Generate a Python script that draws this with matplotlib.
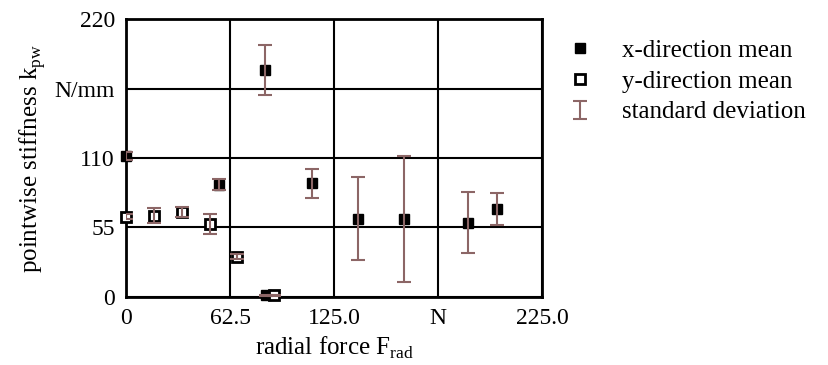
import matplotlib
matplotlib.use("Agg")
import matplotlib.pyplot as plt
from matplotlib.lines import Line2D
from matplotlib.legend_handler import HandlerErrorbar

plt.rcParams['font.family'] = ['Liberation Serif', 'DejaVu Serif']
plt.rcParams['mathtext.fontset'] = 'custom'
plt.rcParams['mathtext.rm'] = 'Liberation Serif'

# x-direction mean values
x_force = [0, 56, 83.5, 84, 111.6, 139.2, 167.1, 205.7, 222.8]
x_mean = [111.5, 89, 179.8, 1, 90, 62, 61.4, 58.7, 69.8]
x_std = [3, 4, 19.5, 0.5, 11.7, 33, 50, 24, 12.7]

# y-direction mean values
y_force = [0, 17, 33.8, 50.5, 66.5, 89]
y_mean = [63.4, 64.2, 66.9, 57.4, 31.7, 1]
y_std = [2, 6, 4, 8, 2, 0.5]

x_ticks = [0, 62.5, 125, 187.5, 250]
x_ticklabels = ['0', '62.5', '125.0', 'N', '225.0']
y_ticks = [0, 55, 110, 165, 220]
y_ticklabels = ['0', '55', '110', 'N/mm', '220']

err_color = '#8c6666'

fig = plt.figure(figsize=(8.29, 3.65), dpi=100)
ax = fig.add_axes([0.152, 0.187, 0.502, 0.760])

ax.plot(x_force, x_mean, 's', color='black', markersize=7, zorder=3, clip_on=False)
ax.plot(y_force, y_mean, 's', markerfacecolor='white', markeredgecolor='black',
        markeredgewidth=2, markersize=7, zorder=3, clip_on=False)
eb = ax.errorbar(x_force, x_mean, yerr=x_std, fmt='none', ecolor=err_color,
                 elinewidth=1.5, capsize=5, capthick=1.5, zorder=4)
ax.errorbar(y_force, y_mean, yerr=y_std, fmt='none', ecolor=err_color,
            elinewidth=1.5, capsize=5, capthick=1.5, zorder=4)

ax.set_xlim(0, 250)
ax.set_ylim(0, 220)
ax.set_xticks(x_ticks)
ax.set_xticklabels(x_ticklabels)
ax.set_yticks(y_ticks)
ax.set_yticklabels(y_ticklabels)
ax.grid(True, color='black', linewidth=1.5)
for s in ax.spines.values():
    s.set_linewidth(2)
ax.tick_params(length=0, labelsize=17, pad=8)

ax.set_xlabel('radial force F$_{\\mathrm{rad}}$', fontsize=18, labelpad=4)
ax.set_ylabel('pointwise stiffness k$_{\\mathrm{pw}}$', fontsize=18, labelpad=5)

handles = [
    Line2D([], [], marker='s', color='black', linestyle='none', markersize=7),
    Line2D([], [], marker='s', markerfacecolor='white', markeredgecolor='black',
           markeredgewidth=2, linestyle='none', markersize=7),
    eb,
]
labels = ['x-direction mean', 'y-direction mean', 'standard deviation']
fig.legend(handles, labels, loc='upper left', bbox_to_anchor=(0.657, 0.954),
           frameon=False, fontsize=18, handlelength=1.0, labelspacing=0.33,
           handletextpad=1.18, handler_map={eb: HandlerErrorbar(yerr_size=0.36)})

fig.savefig('out.png', dpi=100)
